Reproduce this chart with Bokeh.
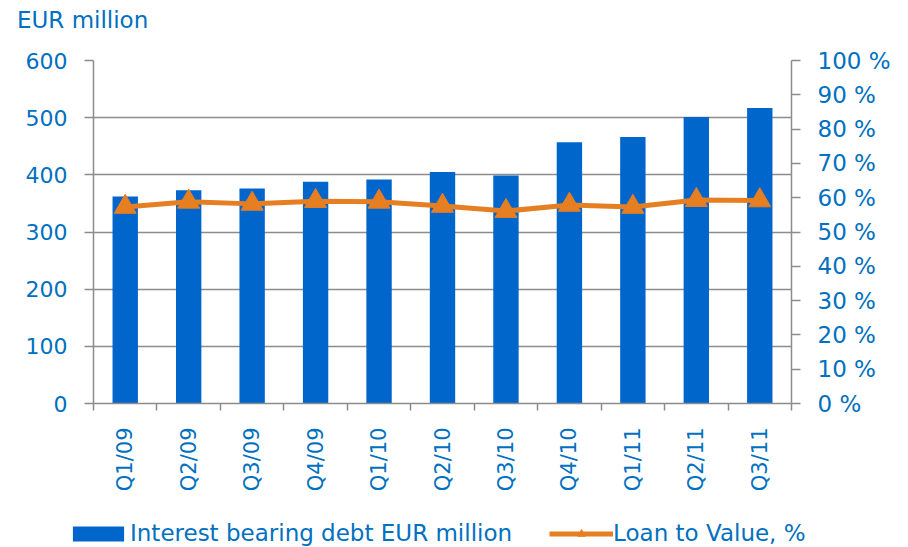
import numpy as np
from bokeh.plotting import figure
from bokeh.layouts import column, row
from bokeh.models import (Range1d, LinearAxis, FixedTicker, PrintfTickFormatter,
                          Legend, LegendItem, Grid, ColumnDataSource)
from bokeh.embed import file_html
from bokeh.resources import INLINE

quarters = ["Q1/09", "Q2/09", "Q3/09", "Q4/09", "Q1/10", "Q2/10", "Q3/10",
            "Q4/10", "Q1/11", "Q2/11", "Q3/11"]
debt = [362, 373, 376, 388, 392, 405, 399, 457, 466, 501, 517]
ltv = [57.3, 58.8, 58.2, 59.0, 58.8, 57.6, 56.1, 57.9, 57.3, 59.3, 59.2]
left_ticks = [0, 100, 200, 300, 400, 500, 600]
right_ticks = [0, 10, 20, 30, 40, 50, 60, 70, 80, 90, 100]
series_names = ["Interest bearing debt EUR million", "Loan to Value, %"]
y_title = "EUR million"

TXT = "#0070C0"
BLUE = "#0066CC"
ORANGE = "#E67E22"
GRAY = "#8C8C8C"
FONT = "DejaVu Sans"

n = len(quarters)
idx = list(range(1, n + 1))
src = ColumnDataSource(dict(x=idx, debt=debt, ltv=ltv, q=quarters))

text_style = dict(padding=0, margin=0, border_line_color=None, background_fill_alpha=0,
                  label_text_font=FONT, label_text_font_size="23px",
                  label_text_color=TXT, orientation="horizontal")


def strip(h):
    f = figure(width=908, height=h, output_backend="svg", toolbar_location=None,
               title=None, x_range=Range1d(-10, -9), y_range=Range1d(-10, -9),
               min_border_left=0, min_border_right=0, min_border_top=0,
               min_border_bottom=0, x_axis_type=None, y_axis_type=None)
    f.outline_line_color = None
    f.xgrid.visible = False
    f.ygrid.visible = False
    return f


# title strip above the chart
p0 = strip(34)
tr = p0.scatter(x="x", y="ltv", source=src, alpha=0, size=1)
p0.add_layout(Legend(items=[LegendItem(label=y_title, renderers=[tr])],
                     location=(17, 1), glyph_width=0, glyph_height=1,
                     label_standoff=0, **text_style), "center")

p = figure(width=908, height=476, output_backend="svg", toolbar_location=None,
           title=None,
           x_range=Range1d(0.5, n + 0.5), y_range=Range1d(0, 600),
           min_border_left=93, min_border_right=117, min_border_top=26,
           min_border_bottom=107, x_axis_type=None, y_axis_type=None)
p.extra_y_ranges = {"pct": Range1d(0, 100)}
p.outline_line_color = None
p.background_fill_color = "white"

bar_style = dict(fill_color=BLUE, line_color=None)
line_style = dict(line_color=ORANGE, line_width=5)
mark_style = dict(marker="triangle", fill_color=ORANGE, line_color=ORANGE)

p.vbar(x="x", top="debt", width=0.4, source=src, **bar_style)
p.line(x="x", y="ltv", source=src, y_range_name="pct", **line_style)
p.scatter(x="x", y="ltv", source=src, y_range_name="pct", size=22, **mark_style)

yl = LinearAxis(ticker=FixedTicker(ticks=left_ticks))
xb = LinearAxis(ticker=FixedTicker(ticks=idx, minor_ticks=[i + 0.5 for i in range(n + 1)]))
xb.major_label_overrides = {i: q for i, q in zip(idx, quarters)}
xb.major_label_orientation = np.pi / 2
xb.major_tick_out = 0
xb.major_tick_in = 0
xb.minor_tick_out = 7
xb.minor_tick_in = 0
xb.minor_tick_line_color = GRAY
xb.minor_tick_line_width = 1.5
xb.major_label_standoff = 17
xb.major_label_text_font_size = "21px"
yr = LinearAxis(y_range_name="pct", ticker=FixedTicker(ticks=right_ticks),
                formatter=PrintfTickFormatter(format="%d %%"))

for ax, size in ((yl, "22px"), (yr, "23px")):
    ax.major_tick_out = 9
    ax.major_tick_in = 0
    ax.minor_tick_line_color = None
    ax.major_label_standoff = 17
    ax.major_label_text_font_size = size

for ax in (yl, xb, yr):
    ax.axis_line_color = GRAY
    ax.axis_line_width = 1.5
    ax.major_tick_line_color = GRAY
    ax.major_tick_line_width = 1.5
    ax.major_label_text_color = TXT
    ax.major_label_text_font = FONT

p.add_layout(yl, "left")
p.add_layout(xb, "below")
p.add_layout(yr, "right")

p.ygrid.grid_line_color = None
g = Grid(dimension=1, ticker=yl.ticker, grid_line_color=GRAY, grid_line_width=1.5)
p.add_layout(g)

# legend strip below the chart (its renderers sit outside its visible ranges)
p2 = strip(37)
lb = p2.vbar(x="x", top="debt", width=0.4, source=src, **bar_style)
ll = p2.line(x="x", y="ltv", source=src, **line_style)
lm = p2.scatter(x="x", y="ltv", source=src, size=22, **mark_style)

legend = Legend(items=[LegendItem(label=series_names[0], renderers=[lb]),
                       LegendItem(label=series_names[1], renderers=[ll, lm])],
                location=(66, 1), glyph_width=64, glyph_height=19,
                label_standoff=0, spacing=37, **text_style)
p2.add_layout(legend, "center")

open("out.html", "w").write(file_html(column(row(p0), p, row(p2), spacing=0), INLINE))
